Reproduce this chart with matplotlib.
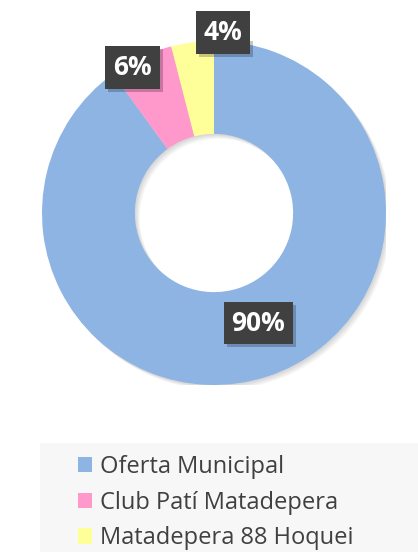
import numpy as np
import matplotlib.pyplot as plt
from matplotlib.patches import Rectangle, Patch, Wedge

# Données
categories = ["Oferta Municipal", "Club Patí Matadepera", "Matadepera 88 Hoquei"]
valeurs = [90, 6, 4]
couleurs = ["#8EB4E3", "#FF99CC", "#FFFF99"]
etiquettes = ["90%", "6%", "4%"]

# Position des étiquettes (rayon, décalage d'angle en degrés)
rayons_lab = [0.69, 0.97, 1.05]
decal_ang = [4, 4, -10]

plt.rcParams['font.family'] = ['Open Sans', 'DejaVu Sans']

fig = plt.figure(figsize=(4.18, 5.52), dpi=100)
ax = fig.add_axes([42 / 418, (552 - 385) / 552, 344 / 418, 344 / 552])
ax.axis("off")

# Ombre douce sous l'anneau
for k in range(4):
    off = 0.007 * (k + 1)
    ax.add_patch(Wedge((off, -off), 1.0, 0, 360, width=0.54,
                       facecolor="black", edgecolor="none", alpha=0.04, zorder=0))

wedges, _ = ax.pie(valeurs, colors=couleurs, startangle=90, counterclock=False,
                   radius=1.0, wedgeprops=dict(width=0.54, edgecolor="none"))
for w in wedges:
    w.set_zorder(1)
ax.set_xlim(-1, 1)
ax.set_ylim(-1, 1)
ax.set_aspect("equal")

# Étiquettes de pourcentage
textes = []
for w, lab, r, d in zip(wedges, etiquettes, rayons_lab, decal_ang):
    ang = np.deg2rad((w.theta1 + w.theta2) / 2 + d)
    x, y = r * np.cos(ang), r * np.sin(ang)
    t = ax.text(x, y, lab, ha="center", va="center", fontsize=19,
                fontweight="bold", color="white", zorder=5,
                bbox=dict(boxstyle="square,pad=0.3", facecolor="#404040",
                          edgecolor="none"))
    textes.append(t)

# Ombre des boîtes d'étiquettes (sous les boîtes)
fig.canvas.draw()
for t in textes:
    bb = t.get_bbox_patch().get_window_extent()
    ax.add_artist(Rectangle((bb.x0 + 3, bb.y0 - 3), bb.width, bb.height,
                            transform=None, facecolor="black",
                            edgecolor="none", alpha=0.22, zorder=4))

# Fond de la légende
fig.patches.append(Rectangle((40 / 418, 0), 378 / 418, 109 / 552,
                             transform=fig.transFigure, facecolor="#F7F7F7",
                             edgecolor="none", zorder=0))

poignees = [Patch(facecolor=c, edgecolor="none") for c in couleurs]
fig.legend(poignees, categories, loc="upper left",
           bbox_to_anchor=(66 / 418, 1 - 443 / 552), frameon=False,
           fontsize=17, handlelength=0.62, handleheight=0.62, borderpad=0,
           handletextpad=0.3, labelspacing=0.5, labelcolor="#404040")

fig.savefig("out.png", dpi=100)
